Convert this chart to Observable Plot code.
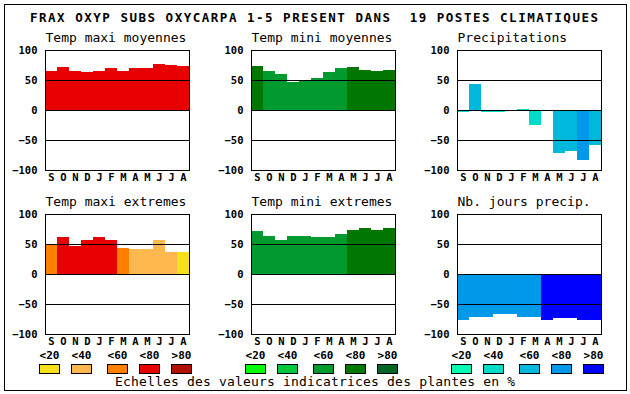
<!DOCTYPE html>
<html>
<head>
<meta charset="utf-8">
<script src="https://cdn.jsdelivr.net/npm/d3@7"></script>
<script src="https://cdn.jsdelivr.net/npm/@observablehq/plot@0.6"></script>
<style>
  html, body { margin: 0; padding: 0; background: #fff; }
  #chart { position: relative; width: 630px; height: 394px; background: #fff; overflow: hidden; }
  #chart > svg, #chart > .panel { position: absolute; }
</style>
</head>
<body>
<div id="chart"></div>
<script>
// ---- data ----
const title = "FRAX OXYP SUBS OXYCARPA 1-5 PRESENT DANS  19 POSTES CLIMATIQUES";
const caption = "Echelles des valeurs indicatrices des plantes en %";
const months = ["S","O","N","D","J","F","M","A","M","J","J","A"];
const classLabels = ["<20","<40","<60","<80",">80"];
const yTicks = [-100, -50, 0, 50, 100];
const gridValues = [-50, 0, 50];

const panelTitles = ["Temp maxi moyennes", "Temp mini moyennes", "Precipitations",
                     "Temp maxi extremes", "Temp mini extremes", "Nb. jours precip."];

const tmaxMoy    = [65, 72, 65, 63, 65, 70, 65, 70, 70, 77, 75, 73];
const tmaxMoyCls = [3, 3, 3, 3, 3, 3, 3, 3, 3, 3, 3, 3];
const tminMoy    = [73, 65, 60, 47, 50, 53, 63, 70, 72, 67, 65, 67];
const tminMoyCls = [3, 2, 2, 2, 2, 2, 2, 2, 3, 3, 3, 3];
const precip     = [-4, 43, -4, -3, 0, 2, -25, 0, -71, -68, -83, -58];
const precipCls  = [1, 2, 1, 1, 1, 1, 1, 1, 2, 2, 3, 2];
const tmaxExt    = [50, 61, 46, 57, 61, 56, 44, 42, 41, 56, 36, 36];
const tmaxExtCls = [2, 3, 3, 3, 3, 3, 2, 1, 1, 1, 1, 0];
const tminExt    = [71, 64, 57, 64, 64, 62, 62, 66, 74, 77, 74, 77];
const tminExtCls = [2, 2, 2, 2, 2, 2, 2, 2, 3, 3, 3, 3];
const nbJours    = [-77, -72, -72, -66, -66, -71, -72, -77, -74, -74, -77, -76];
const nbJoursCls = [3, 3, 3, 3, 3, 3, 3, 4, 4, 4, 4, 4];

// ---- styles ----
const reds   = ["#f8e018", "#ffb850", "#ff8000", "#e80000", "#b01000"];
const greens = ["#00ff00", "#00c83c", "#009a2e", "#007800", "#006424"];
const blues  = ["#00ffb4", "#00dcc8", "#00b8dc", "#0098e8", "#0000ff"];
const FONT = "'DejaVu Sans Mono', 'Liberation Mono', monospace";

const chart = document.getElementById("chart");

function panel(name, values, cls, palette, left, top) {
  const data = values.map((v, i) => ({i, v, c: classLabels[cls[i]]}));
  const p = Plot.plot({
    width: 210, height: 160,
    marginLeft: 45, marginRight: 21, marginTop: 20, marginBottom: 20,
    style: {fontFamily: FONT, fontSize: "10.5px", fontWeight: "bold", background: "transparent", overflow: "visible"},
    x: {type: "band", domain: d3.range(12), padding: 0, tickFormat: i => months[i], tickSize: 0, tickPadding: 3, label: null},
    y: {domain: [-100, 100], ticks: yTicks, tickSize: 0, tickPadding: 8, label: null, tickFormat: d3.format("d")},
    color: {type: "ordinal", domain: classLabels, range: palette},
    marks: [
      Plot.barY(data, {x: "i", y: "v", fill: "c", shapeRendering: "crispEdges"}),
      Plot.ruleY(gridValues, {stroke: "black", strokeWidth: 1}),
      Plot.frame({stroke: "black"}),
      Plot.text([name], {frameAnchor: "top-left", dy: -9, textAnchor: "start", lineAnchor: "bottom",
                         fontSize: 13, fontWeight: "normal", fill: "black"})
    ]
  });
  p.style.position = "absolute";
  p.style.left = left + "px";
  p.style.top = top + "px";
  chart.appendChild(p);
}

const colLeft = [0, 206, 412];
const rowTop = [30, 194];
panel(panelTitles[0], tmaxMoy, tmaxMoyCls, reds,   colLeft[0], rowTop[0]);
panel(panelTitles[1], tminMoy, tminMoyCls, greens, colLeft[1], rowTop[0]);
panel(panelTitles[2], precip,  precipCls,  blues,  colLeft[2], rowTop[0]);
panel(panelTitles[3], tmaxExt, tmaxExtCls, reds,   colLeft[0], rowTop[1]);
panel(panelTitles[4], tminExt, tminExtCls, greens, colLeft[1], rowTop[1]);
panel(panelTitles[5], nbJours, nbJoursCls, blues,  colLeft[2], rowTop[1]);

// ---- overlay: border, title, legend, caption ----
const svg = d3.select(chart).append("svg")
  .attr("width", 630).attr("height", 394)
  .style("left", "0px").style("top", "0px")
  .style("pointer-events", "none")
  .style("font-family", FONT);

svg.append("rect").attr("x", 4.5).attr("y", 4.5).attr("width", 622).attr("height", 386)
  .attr("fill", "none").attr("stroke", "black").attr("stroke-width", 1);

svg.append("text").attr("x", 314).attr("y", 22)
  .attr("text-anchor", "middle").attr("font-size", 12.5).attr("font-weight", "bold")
  .attr("textLength", 568).attr("lengthAdjust", "spacing")
  .style("white-space", "pre")
  .text(title);

const groupX = [39, 245, 451];
const swatchDx = [0, 32, 68, 100, 132];
const palettes = [reds, greens, blues];
palettes.forEach((pal, g) => {
  classLabels.forEach((lab, k) => {
    const x = groupX[g] + swatchDx[k];
    svg.append("text").attr("x", x + 10.5).attr("y", 359)
      .attr("text-anchor", "middle").attr("font-size", 11).attr("font-weight", "bold")
      .text(lab);
    svg.append("rect").attr("x", x + 0.5).attr("y", 364.5).attr("width", 20).attr("height", 9)
      .attr("fill", pal[k]).attr("stroke", "black").attr("stroke-width", 1);
  });
});

svg.append("text").attr("x", 315).attr("y", 386)
  .attr("text-anchor", "middle").attr("font-size", 13)
  .attr("textLength", 400).attr("lengthAdjust", "spacing")
  .text(caption);
</script>
</body>
</html>
